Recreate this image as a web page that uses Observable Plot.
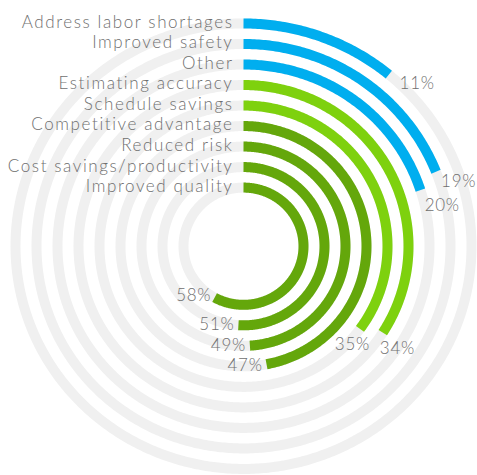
<!DOCTYPE html>
<html>
<head>
<meta charset="utf-8">
<script src="https://cdn.jsdelivr.net/npm/d3@7"></script>
<script src="https://cdn.jsdelivr.net/npm/@observablehq/plot@0.6"></script>
<style>
  html, body { margin: 0; padding: 0; background: #fff; }
  #chart svg { display: block; }
  #chart svg text { letter-spacing: 0.7px; }
  #chart svg g[aria-description="category labels"] text { letter-spacing: 1.6px; }
</style>
</head>
<body>
<div id="chart"></div>
<script>
// ---- data (outer ring first) ----
const categories = [
  "Address labor shortages",
  "Improved safety",
  "Other",
  "Estimating accuracy",
  "Schedule savings",
  "Competitive advantage",
  "Reduced risk",
  "Cost savings/productivity",
  "Improved quality"
];
const values = [11, 19, 20, 34, 35, 47, 49, 51, 58];
const groups = ["A", "A", "A", "B", "B", "C", "C", "C", "C"];
const groupNames = ["A", "B", "C"];
const groupColors = ["#00AEEF", "#7ED10E", "#64A70B"];

// ---- layout ----
const W = 477, H = 475;
const rScale = d3.scalePoint().domain(categories).range([228, 60]);
const aScale = d3.scaleLinear().domain([0, 100]).range([0, 2 * Math.PI]);

function arcPoints(cat, v, extra) {
  const r = rScale(cat);
  const end = aScale(v);
  const n = Math.max(8, Math.ceil(v * 6));
  return d3.range(n + 1).map(k => {
    const a = end * k / n;
    return {cat, u: r * Math.sin(a), v: r * Math.cos(a), ...extra};
  });
}

const tracks = categories.flatMap(c => arcPoints(c, 100.4, {}));
const bars = categories.flatMap((c, i) => arcPoints(c, values[i], {group: groups[i]}));

// value label anchors: bar end moved along the tangent
function endLabel(c, i, along) {
  const r = rScale(c), a = aScale(values[i]);
  return {
    cat: c, value: values[i], deg: a * 180 / Math.PI,
    u: r * Math.sin(a) + along * Math.cos(a),
    v: r * Math.cos(a) - along * Math.sin(a)
  };
}
// simple dodge so neighbouring labels do not collide
function dodge(items, key, minGap) {
  const s = items.slice().sort((a, b) => a[key] - b[key]);
  for (let iter = 0; iter < 20; iter++) {
    for (let k = 1; k < s.length; k++) {
      const gap = s[k][key] - s[k - 1][key];
      if (gap < minGap) {
        const push = (minGap - gap) / 2;
        s[k][key] += push; s[k - 1][key] -= push;
      }
    }
  }
  return items;
}
const all = (along) => categories.map((c, i) => endLabel(c, i, along));
const rightLabels = dodge(all(14).filter(d => d.deg < 100), "v", 24);
const lowLabels = dodge(all(17).filter(d => d.deg >= 100 && d.deg < 150), "u", 45);
const leftLabels = all(5).filter(d => d.deg >= 150);

const font = "Lato, 'Open Sans', sans-serif";
const textColor = "#6f6f6f";
const fs = 17;

const chart = Plot.plot({
  width: W,
  height: H,
  margin: 0,
  style: {fontFamily: font, background: "#fff"},
  x: {domain: [-243, 234], range: [0, W], axis: null},
  y: {domain: [-234.7, 251.5], range: [H, 0], axis: null},
  color: {domain: groupNames, range: groupColors},
  marks: [
    Plot.line(tracks, {x: "u", y: "v", z: "cat", stroke: "#f0f0f0", strokeWidth: 10, strokeLinecap: "butt"}),
    Plot.line(bars, {x: "u", y: "v", z: "cat", stroke: "group", strokeWidth: 10, strokeLinecap: "butt"}),
    Plot.text(categories, {x: 0, y: d => rScale(d), text: d => d, textAnchor: "end", dx: -10, dy: -1, fontSize: fs, fontWeight: 300, fill: textColor, ariaDescription: "category labels"}),
    Plot.text(rightLabels, {x: "u", y: "v", text: d => d.value + "%", textAnchor: "start", fontSize: fs, fontWeight: 300, fill: textColor}),
    Plot.text(lowLabels, {x: "u", y: "v", text: d => d.value + "%", textAnchor: "middle", dx: 13, dy: 2, fontSize: fs, fontWeight: 300, fill: textColor}),
    Plot.text(leftLabels, {x: "u", y: "v", text: d => d.value + "%", textAnchor: "end", dx: 1, fontSize: fs, fontWeight: 300, fill: textColor})
  ]
});
document.getElementById("chart").appendChild(chart);
</script>
</body>
</html>
